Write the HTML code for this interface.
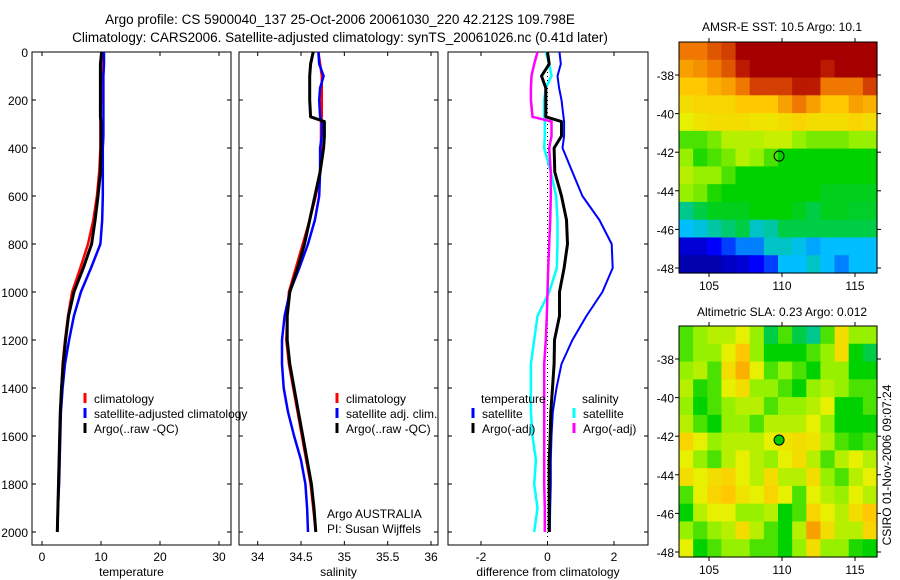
<!DOCTYPE html>
<html><head><meta charset="utf-8"><style>
html,body{margin:0;padding:0;background:#fff;}
svg{display:block;font-family:"Liberation Sans",sans-serif;}
</style></head><body>
<svg id="fig" width="900" height="580" viewBox="0 0 900 580">
<text x="340" y="24" text-anchor="middle" font-size="13.5">Argo profile: CS 5900040_137 25-Oct-2006 20061030_220 42.212S 109.798E</text>
<text x="340" y="42" text-anchor="middle" font-size="13.5">Climatology: CARS2006. Satellite-adjusted climatology: synTS_20061026.nc (0.41d later)</text>
<text x="782" y="31" text-anchor="middle" font-size="12">AMSR-E SST: 10.5 Argo: 10.1</text>
<text x="782" y="316" text-anchor="middle" font-size="12">Altimetric SLA: 0.23 Argo: 0.012</text>
<text x="0" y="0" transform="translate(891,465) rotate(-90)" text-anchor="middle" font-size="12">CSIRO 01-Nov-2006 09:07:24</text>
</svg>
<script>
const depths=[0,50,100,150,200,270,290,350,400,500,600,700,800,900,1000,1100,1200,1300,1400,1500,1600,1700,1800,1900,2000];
const climT=[10.2,10.1,10.1,10.0,10.0,9.9,9.9,9.9,9.9,9.7,9.3,8.7,7.8,6.5,5.1,4.4,3.9,3.5,3.3,3.1,3.0,2.9,2.8,2.7,2.6];
const satT=[10.5,10.5,10.4,10.4,10.4,10.4,10.4,10.4,10.3,10.3,10.3,10.2,9.9,8.3,6.6,5.4,4.6,3.9,3.5,3.2,3.1,3.0,2.9,2.7,2.6];
const argoT=[10.1,9.9,9.9,9.9,9.9,9.9,10.0,10.0,10.0,9.9,9.5,9.0,8.4,7.0,5.4,4.5,4.0,3.6,3.3,3.1,3.0,2.9,2.8,2.7,2.6];
const climS=[34.70,34.72,34.74,34.74,34.74,34.74,34.73,34.73,34.73,34.72,34.67,34.60,34.52,34.44,34.36,34.34,34.33,34.36,34.41,34.46,34.51,34.56,34.61,34.64,34.67];
const satS=[34.70,34.71,34.76,34.72,34.71,34.72,34.74,34.74,34.72,34.72,34.71,34.66,34.58,34.48,34.37,34.31,34.28,34.28,34.30,34.35,34.42,34.50,34.55,34.57,34.58];
const argoS=[34.64,34.61,34.60,34.60,34.60,34.61,34.77,34.77,34.76,34.72,34.66,34.60,34.54,34.46,34.37,34.34,34.34,34.37,34.42,34.47,34.52,34.57,34.62,34.65,34.67];
const dTsat=[0.36,0.4,0.3,0.35,0.42,0.48,0.5,0.5,0.45,0.75,1.05,1.56,1.93,1.96,1.65,1.17,0.75,0.42,0.27,0.16,0.12,0.1,0.1,0.08,0.07];
const dTargo=[0.0,0.05,-0.18,-0.05,-0.05,-0.05,0.42,0.42,0.2,0.22,0.42,0.57,0.6,0.5,0.36,0.36,0.21,0.2,0.15,0.1,0.08,0.05,0.05,0.05,0.05];
const dSsat=[-0.05,0.05,0.12,-0.05,-0.1,-0.1,-0.08,-0.08,-0.1,0.1,0.26,0.3,0.3,0.28,0.05,-0.3,-0.4,-0.5,-0.5,-0.5,-0.45,-0.35,-0.4,-0.3,-0.4];
const dSargo=[-0.3,-0.4,-0.48,-0.5,-0.5,-0.45,0.12,0.12,0.05,0.1,0.1,0.08,0.05,0.02,0.0,-0.02,-0.05,-0.1,-0.1,-0.1,-0.1,-0.1,-0.1,-0.08,-0.08];
const depthTicks=[0,200,400,600,800,1000,1200,1400,1600,1800,2000];
const tempTicks=[0,10,20,30];
const salTicks=[34,34.5,35,35.5,36];
const diffTicks=[-2,0,2];
const lonTicks=[105,110,115];
const latTicks=[-38,-40,-42,-44,-46,-48];
const sstGrid=[
[.85,.85,.88,.9,1,1,1,1,1,1,1,1,1,1],
[.8,.82,.85,.88,.95,1,1,1,1,1,.95,1,1,1],
[.75,.75,.78,.8,.85,.9,.9,.9,.95,.95,.85,.85,.85,.9],
[.7,.72,.72,.72,.75,.75,.75,.8,.85,.8,.75,.75,.8,.78],
[.65,.68,.7,.7,.7,.68,.68,.7,.72,.7,.7,.7,.72,.7],
[.55,.55,.58,.62,.62,.62,.63,.63,.6,.58,.58,.58,.6,.6],
[.6,.52,.55,.58,.62,.6,.55,.5,.5,.5,.5,.5,.5,.5],
[.62,.6,.6,.55,.5,.5,.5,.5,.5,.5,.5,.5,.5,.5],
[.6,.58,.52,.5,.5,.5,.5,.5,.5,.5,.48,.48,.48,.48],
[.4,.45,.48,.48,.48,.5,.5,.5,.48,.45,.48,.48,.47,.47],
[.3,.33,.38,.42,.45,.35,.38,.45,.45,.45,.45,.45,.45,.45],
[.1,.1,.15,.2,.25,.25,.35,.35,.32,.28,.3,.3,.3,.3],
[.05,.05,.05,.08,.1,.15,.2,.3,.3,.35,.3,.25,.3,.3]];
const slaGrid=[
[.55,.6,.62,.62,.65,.6,.45,.55,.45,.4,.55,.7,.6,.6],
[.55,.6,.6,.65,.75,.6,.5,.5,.5,.55,.6,.7,.5,.45],
[.6,.62,.55,.7,.78,.65,.55,.6,.55,.5,.6,.6,.5,.5],
[.62,.52,.55,.65,.7,.6,.6,.55,.5,.6,.62,.6,.55,.55],
[.6,.5,.55,.6,.62,.62,.55,.6,.6,.62,.65,.5,.5,.55],
[.62,.55,.5,.6,.6,.55,.62,.62,.62,.65,.6,.5,.5,.5],
[.72,.65,.6,.62,.62,.62,.65,.68,.7,.68,.62,.55,.52,.55],
[.65,.6,.55,.62,.65,.62,.6,.65,.7,.62,.55,.62,.65,.62],
[.7,.65,.7,.72,.65,.62,.7,.62,.62,.7,.6,.55,.62,.65],
[.55,.65,.72,.75,.68,.65,.72,.65,.55,.65,.62,.6,.65,.62],
[.5,.62,.65,.65,.6,.6,.62,.5,.55,.72,.65,.62,.7,.75],
[.6,.55,.6,.62,.7,.62,.55,.5,.62,.8,.7,.62,.62,.72],
[.65,.5,.55,.6,.6,.55,.55,.5,.6,.7,.6,.6,.52,.5]];
const floatLon=109.8, floatLat=-42.2;

const NS='http://www.w3.org/2000/svg';
const svg=document.getElementById('fig');
function mk(tag,attrs,parent){const e=document.createElementNS(NS,tag);for(const k in attrs)e.setAttribute(k,attrs[k]);(parent||svg).appendChild(e);return e;}
const yTop=52,yPerM=0.24;
function yD(d){return yTop+d*yPerM;}
function lin(d0,d1,r0,r1){return v=>r0+(v-d0)*(r1-r0)/(d1-d0);}
const panels=[
 {x0:32,x1:231,sx:lin(0,30,42,219),ticks:tempTicks,label:'temperature',name:'temperature-panel'},
 {x0:239,x1:438,sx:lin(34,36,257.7,431),ticks:salTicks,label:'salinity',name:'salinity-panel'},
 {x0:448,x1:648,sx:lin(-2,2,481,614),ticks:diffTicks,label:'difference from climatology',name:'difference-panel'}];
const yB=545;
panels.forEach((p,i)=>{
 const g=mk('g',{});
 
 
 const r=mk('rect',{x:p.x0,y:yTop,width:p.x1-p.x0,height:yB-yTop,fill:'none',stroke:'#000','stroke-width':1},g);
 
 
 depthTicks.forEach(d=>{
  mk('line',{x1:p.x0,x2:p.x0+4,y1:yD(d),y2:yD(d),stroke:'#000'},g);
  mk('line',{x1:p.x1,x2:p.x1-4,y1:yD(d),y2:yD(d),stroke:'#000'},g);
  if(i===0){const t=mk('text',{x:28,y:yD(d)+5,'text-anchor':'end','font-size':12},g);t.textContent=d;
   
   }
 });
 p.ticks.forEach(v=>{
  const x=p.sx(v);
  mk('line',{x1:x,x2:x,y1:yB,y2:yB-4,stroke:'#000'},g);
  mk('line',{x1:x,x2:x,y1:yTop,y2:yTop+4,stroke:'#000'},g);
  const t=mk('text',{x:x,y:561,'text-anchor':'middle','font-size':12},g);t.textContent=v;
  
  
 });
 const lt=mk('text',{x:(p.x0+p.x1)/2,y:576,'text-anchor':'middle','font-size':12},g);lt.textContent=p.label;
 
 
});
function line(vals,p,color,w,name,dash){
 const pts=vals.map((v,i)=>p.sx(v).toFixed(1)+','+yD(depths[i]).toFixed(1)).join(' ');
 const e=mk('polyline',{points:pts,fill:'none',stroke:color,'stroke-width':w,'stroke-linejoin':'round'});
 if(dash)e.setAttribute('stroke-dasharray',dash);
 
 
}
const P=panels;
const z=mk('line',{x1:P[2].sx(0),x2:P[2].sx(0),y1:yTop,y2:540,stroke:'#000','stroke-width':1,'stroke-dasharray':'1,3'});


line(climT,P[0],'#f00',2.5,'temp-climatology-line');
line(satT,P[0],'#00f',2.5,'temp-satellite-line');
line(argoT,P[0],'#000',3,'temp-argo-line');
line(climS,P[1],'#f00',2.5,'sal-climatology-line');
line(satS,P[1],'#00f',2.5,'sal-satellite-line');
line(argoS,P[1],'#000',3,'sal-argo-line');
line(dTsat,P[2],'#00f',2,'diff-temp-satellite-line');
line(dSsat,P[2],'#0ff',2.5,'diff-sal-satellite-line');
line(dSargo,P[2],'#f0f',2.5,'diff-sal-argo-line');
line(dTargo,P[2],'#000',3,'diff-temp-argo-line');
function leg(x,y,color,text,name){
 if(color){const m=mk('line',{x1:x,x2:x,y1:y-10,y2:y,stroke:color,'stroke-width':3});
  
  }
 const t=mk('text',{x:x+9,y:y,'font-size':12});t.textContent=text;
 
 
}
leg(85,403,'#f00','climatology','legend-climatology');
leg(85,418,'#00f','satellite-adjusted climatology','legend-satellite');
leg(85,433,'#000','Argo(..raw -QC)','legend-argo');
leg(337,403,'#f00','climatology','legend-sal-climatology');
leg(337,418,'#00f','satellite adj. clim.','legend-sal-satellite');
leg(337,433,'#000','Argo(..raw -QC)','legend-sal-argo');
leg(472,403,null,'temperature','legend-temperature-header');
leg(473,418,'#00f','satellite','legend-diff-temp-satellite');
leg(473,433,'#000','Argo(-adj)','legend-diff-temp-argo');
leg(573,403,null,'salinity','legend-salinity-header');
leg(574,418,'#0ff','satellite','legend-diff-sal-satellite');
leg(574,433,'#f0f','Argo(-adj)','legend-diff-sal-argo');
const a1=mk('text',{x:327,y:518,'font-size':12});a1.textContent='Argo AUSTRALIA';


const a2=mk('text',{x:327,y:533,'font-size':12});a2.textContent='PI: Susan Wijffels';



const cmapStops=[[0,0,0,130],[0.15,0,0,255],[0.3,0,190,255],[0.4,0,200,140],[0.5,0,210,0],[0.6,150,240,0],[0.65,230,240,0],[0.75,255,200,0],[0.85,240,120,0],[0.92,200,40,0],[1,165,0,0]];
function cmap(v){v=Math.max(0,Math.min(1,v));
 for(let i=1;i<cmapStops.length;i++){const a=cmapStops[i-1],b=cmapStops[i];
  if(v<=b[0]){const t=(v-a[0])/(b[0]-a[0]);
   return 'rgb('+[1,2,3].map(k=>Math.round(a[k]+(b[k]-a[k])*t)).join(',')+')';}}
 return 'rgb(165,0,0)';}
function map(grid,top,name,filled){
 const x0=679,x1=877,y0=top,y1=top+231;
 const lonS=lin(105,115,709,855), latS=lin(-38,-48,y0+33,y0+226);
 const g=mk('g',{});
 
 
 const nr=grid.length,nc=grid[0].length,cw=(x1-x0)/nc,ch=(y1-y0)/nr;
 grid.forEach((row,r)=>row.forEach((v,c)=>{
  const cell=mk('rect',{x:(x0+c*cw).toFixed(2),y:(y0+r*ch).toFixed(2),width:(cw+0.6).toFixed(2),height:(ch+0.6).toFixed(2),fill:cmap(v)},g);
  
  
 }));
 mk('rect',{x:x0,y:y0,width:x1-x0,height:y1-y0,fill:'none',stroke:'#000'},g);
 lonTicks.forEach(v=>{const x=lonS(v);
  mk('line',{x1:x,x2:x,y1:y0,y2:y0-4,stroke:'#000'},g);
  mk('line',{x1:x,x2:x,y1:y1,y2:y1+4,stroke:'#000'},g);
  const t=mk('text',{x:x,y:y1+17,'text-anchor':'middle','font-size':12},g);t.textContent=v;
  
  });
 latTicks.forEach(v=>{const y=latS(v);
  mk('line',{x1:x0,x2:x0-4,y1:y,y2:y,stroke:'#000'},g);
  mk('line',{x1:x1,x2:x1+4,y1:y,y2:y,stroke:'#000'},g);
  const t=mk('text',{x:674,y:y+5,'text-anchor':'end','font-size':12},g);t.textContent=v;
  
  });
 const c=mk('circle',{cx:lonS(floatLon),cy:latS(floatLat),r:5,fill:filled?'#0c0':'none',stroke:'#000'},g);
 
 
}
map(sstGrid,42,'sst-map',false);
map(slaGrid,326,'sla-map',true);
</script>
</body></html>
